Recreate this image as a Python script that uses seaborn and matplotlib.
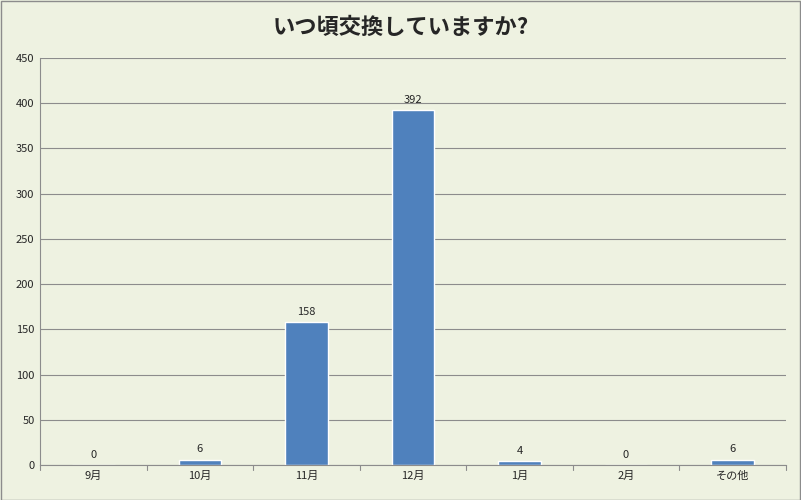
import matplotlib
matplotlib.use("Agg")
import matplotlib.pyplot as plt
import seaborn as sns
import pandas as pd

categories = ["9月", "10月", "11月", "12月", "1月", "2月", "その他"]
values = [0, 6, 158, 392, 4, 0, 6]
title = "いつ頃交換していますか?"

sns.set_style("white")
plt.rcParams['font.family'] = ['Noto Sans CJK JP', 'DejaVu Sans']
bg = "#EEF2E1"
fig = plt.figure(figsize=(8.01, 5.0), dpi=100, facecolor=bg)
ax = fig.add_axes([0.05, 0.07, 0.931, 0.814])
ax.set_facecolor(bg)
df = pd.DataFrame({"cat": categories, "val": values})
sns.barplot(data=df, x="cat", y="val", color="#4F81BD", saturation=1, width=0.4, ax=ax)
ax.set_ylim(0, 450)
ax.set_yticks(range(0, 451, 50))
ax.yaxis.grid(True, color="#8C8C8C", linewidth=0.8)
ax.set_axisbelow(True)
ax.set_xlabel(""); ax.set_ylabel("")
for s in ["top", "right"]:
    ax.spines[s].set_visible(False)
ax.spines["left"].set_color("#8C8C8C")
ax.spines["bottom"].set_color("#8C8C8C")
ax.tick_params(axis="both", labelsize=8, length=0, pad=4)
ax.set_xticks(range(len(categories)), minor=False)
for x in [i + 0.5 for i in range(-1, len(categories))]:
    ax.plot([x, x], [0, -6], color="#8C8C8C", lw=0.8, clip_on=False)
ax.set_xlim(-0.5, len(categories) - 0.5)
for i, v in enumerate(values):
    ax.text(i, v + 6, str(v), ha="center", va="bottom", fontsize=8)
fig.text(0.5, 0.945, title, ha="center", va="center", fontsize=16, fontweight="bold")
fig.patches.append(plt.Rectangle((0.001, 0.001), 0.998, 0.998, transform=fig.transFigure,
                                 fill=False, edgecolor="#8C8C8C", lw=1))
fig.savefig("out.png", dpi=100, facecolor=bg)
